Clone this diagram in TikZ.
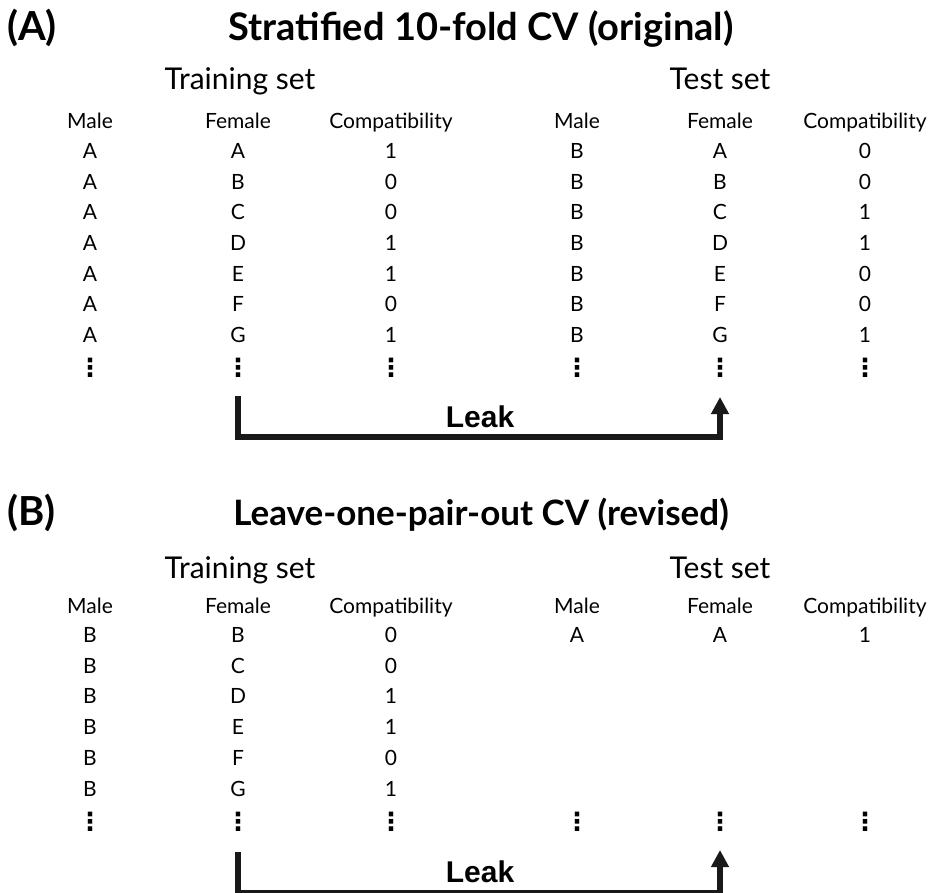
\documentclass[tikz,border=0pt]{standalone}
\usepackage{fontspec}
\setmainfont{Lato}
\newfontfamily\leakfont{Liberation Sans}
\newfontfamily\dotfont{DejaVu Sans}
\usetikzlibrary{arrows.meta}
\begin{document}
\begin{tikzpicture}[x=1pt,y=-1pt,
  cell/.style={inner sep=0pt, anchor=base, font=\fontsize{21}{24}\selectfont},
  dotcell/.style={inner sep=0pt, anchor=base, font=\dotfont\bfseries\fontsize{25}{26}\selectfont},
  settitle/.style={inner sep=0pt, anchor=base, font=\fontsize{30}{34}\selectfont},
  paneltitle/.style={inner sep=0pt, anchor=base, font=\bfseries\fontsize{38}{44}\selectfont},
  panellabel/.style={inner sep=0pt, anchor=base west, font=\bfseries\fontsize{40}{44}\selectfont},
  leaklabel/.style={inner sep=0pt, anchor=base, font=\leakfont\bfseries\fontsize{30}{32}\selectfont},
  leak/.style={draw=black!90, line width=5.5pt, line join=miter, line cap=butt,
    -{Triangle[width=17pt,length=17pt]}}]
\useasboundingbox (0,0) rectangle (932,893);

% ---------------- Panel A ----------------
\node[panellabel] (labA) at (7,41) {(A)};
\node[paneltitle] (titA) at (481,41) {Stratified 10-fold CV (original)};
\node[settitle] (aTrain) at (240,90) {Training set};
\node[settitle] (aTest) at (720,90) {Test set};
\node[cell] (aHM1) at (90,129) {Male};
\node[cell] (aHF1) at (238,129) {Female};
\node[cell] (aHC1) at (391,129) {Compatibility};
\node[cell] (aHM2) at (577,129) {Male};
\node[cell] (aHF2) at (720,129) {Female};
\node[cell] (aHC2) at (865,129) {Compatibility};
\foreach \f/\c/\t [count=\i] in {A/1/0,B/0/0,C/0/1,D/1/1,E/1/0,F/0/0,G/1/1}{
  \pgfmathsetmacro\yy{158.5+30.7*(\i-1)}
  \node[cell] (aTrM\i) at (90,\yy) {A};
  \node[cell] (aTrF\i) at (238,\yy) {\f};
  \node[cell] (aTrC\i) at (391,\yy) {\c};
  \node[cell] (aTeM\i) at (577,\yy) {B};
  \node[cell] (aTeF\i) at (720,\yy) {\f};
  \node[cell] (aTeC\i) at (865,\yy) {\t};
}
\node[dotcell] (aTrMd) at (90,377) {⋮};
\node[dotcell] (aTrFd) at (238,377) {⋮};
\node[dotcell] (aTrCd) at (391,377) {⋮};
\node[dotcell] (aTeMd) at (577,377) {⋮};
\node[dotcell] (aTeFd) at (720,377) {⋮};
\node[dotcell] (aTeCd) at (865,377) {⋮};
\draw[leak] ([yshift=-19pt]aTrFd.base) -- ++(0,41) -| ([yshift=-20pt]aTeFd.base);
\node[leaklabel] (aLeak) at (480,427) {Leak};

% ---------------- Panel B ----------------
\node[panellabel] (labB) at (7,525) {(B)};
\node[paneltitle, font=\bfseries\fontsize{35}{40}\selectfont] (titB) at (481,525) {Leave-one-pair-out CV (revised)};
\node[settitle] (bTrain) at (240,578) {Training set};
\node[settitle] (bTest) at (720,578) {Test set};
\node[cell] (bHM1) at (90,613) {Male};
\node[cell] (bHF1) at (238,613) {Female};
\node[cell] (bHC1) at (391,613) {Compatibility};
\node[cell] (bHM2) at (577,613) {Male};
\node[cell] (bHF2) at (720,613) {Female};
\node[cell] (bHC2) at (865,613) {Compatibility};
\foreach \f/\c [count=\i] in {B/0,C/0,D/1,E/1,F/0,G/1}{
  \pgfmathsetmacro\yy{642.5+30.7*(\i-1)}
  \node[cell] (bTrM\i) at (90,\yy) {B};
  \node[cell] (bTrF\i) at (238,\yy) {\f};
  \node[cell] (bTrC\i) at (391,\yy) {\c};
}
\node[cell] (bTeM1) at (577,642.5) {A};
\node[cell] (bTeF1) at (720,642.5) {A};
\node[cell] (bTeC1) at (865,642.5) {1};
\node[dotcell] (bTrMd) at (90,830) {⋮};
\node[dotcell] (bTrFd) at (238,830) {⋮};
\node[dotcell] (bTrCd) at (391,830) {⋮};
\node[dotcell] (bTeMd) at (577,830) {⋮};
\node[dotcell] (bTeFd) at (720,830) {⋮};
\node[dotcell] (bTeCd) at (865,830) {⋮};
\draw[leak] ([yshift=-22pt]bTrFd.base) -- ++(0,41) -| ([yshift=-20pt]bTeFd.base);
\node[leaklabel] (bLeak) at (480,882) {Leak};
\end{tikzpicture}
\end{document}
